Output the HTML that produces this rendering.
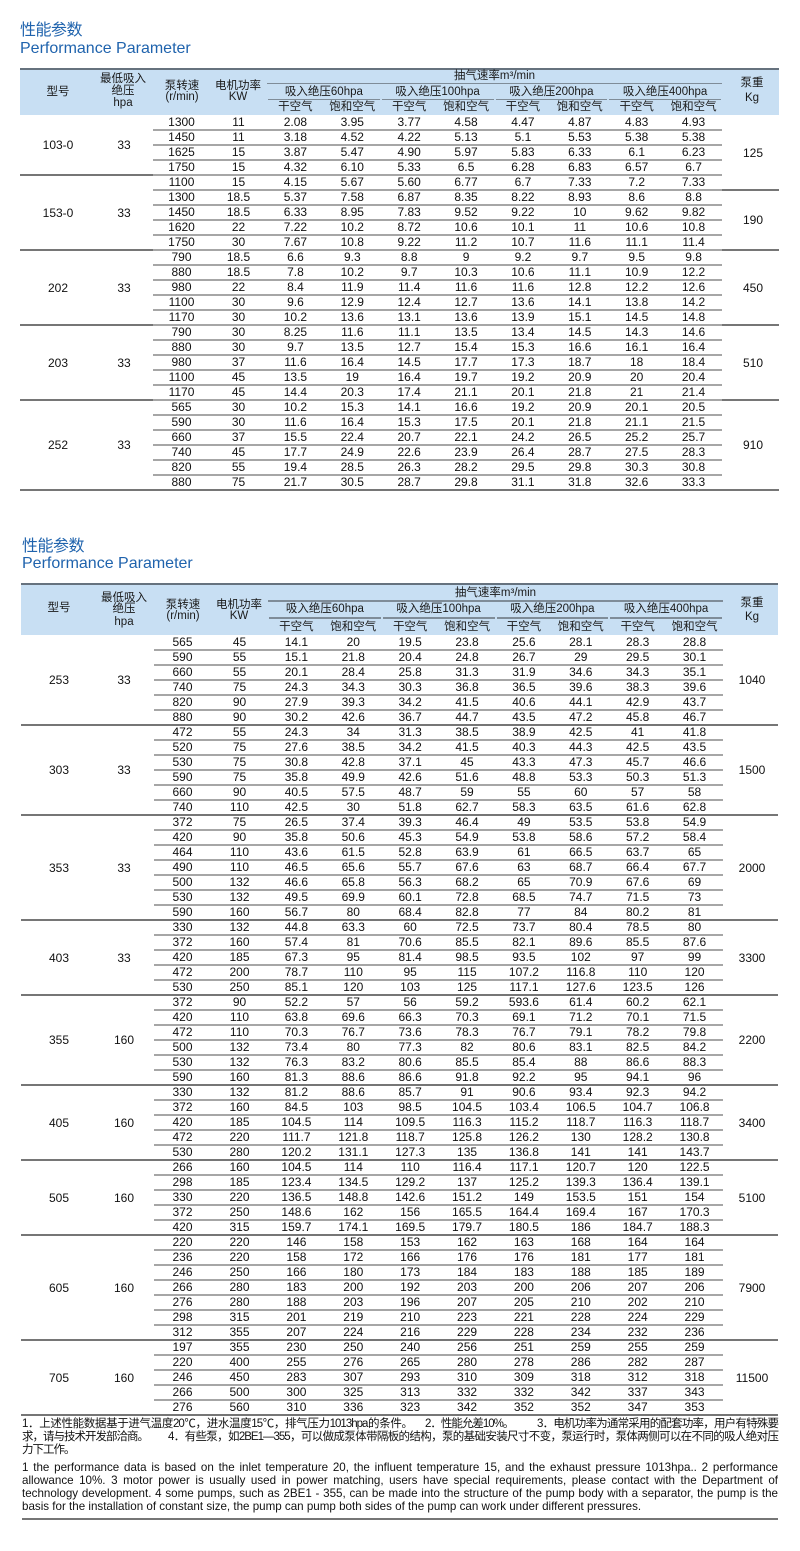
<!DOCTYPE html>
<html><head><meta charset="utf-8">
<style>
*{margin:0;padding:0;box-sizing:border-box}
html,body{width:800px;height:1551px;background:#fff;overflow:hidden}
body{position:relative;font-family:"Liberation Sans","Noto Sans CJK SC",sans-serif;color:#151515}
.tt{position:absolute;color:#1f63ad;font-size:16px;line-height:18px;white-space:nowrap}
.tt.cn{letter-spacing:-0.5px}
.tbl{position:absolute}
.hd{position:relative;background:#c8dff3}
.hd .top{position:absolute;left:0;right:0;top:0;height:2px;background:#66727e}
.c{position:absolute;transform:translate(-50%,-50%);white-space:nowrap;font-size:11.5px;line-height:12px;color:#1a1a1a}
.hl{position:absolute;height:1.5px;background:#7f8c98}
.bd{position:relative}
.r{display:flex;position:relative;margin-left:133px;width:569px;font-size:12px;height:15px;line-height:15px;color:#111}
.r i{font-style:normal;display:block;width:56.875px;text-align:center;white-space:nowrap}
.r i:nth-child(1),.r i:nth-child(2){width:57px}
.r::after{content:"";position:absolute;left:0;right:0;bottom:-1px;height:2px;background:#a6a6a6}
.lb{position:absolute;transform:translate(-50%,-50%);white-space:nowrap;font-size:12px;line-height:12px;color:#111}
.gl{position:absolute;height:2px;background:#767676}
.fn{position:absolute;white-space:nowrap;font-size:11.5px;line-height:13px;letter-spacing:-1px;color:#111}
.fj{text-align:justify;text-align-last:justify;white-space:normal}
.en{position:absolute;left:22px;width:756px;font-size:11.6px;line-height:13px;white-space:normal;color:#111}
.en.j{text-align:justify;text-align-last:justify}
</style></head><body>

<div class="tt cn" style="left:20px;top:22px">性能参数</div>
<div class="tt" style="left:20px;top:40px">Performance Parameter</div>

<!-- TABLE 1 -->
<div class="tbl t1" style="left:20px;top:68px;width:759px">
 <div class="hd" style="height:47px">
  <div class="top"></div>
  <div class="c" style="left:38px;top:23.7px">型号</div>
  <div class="c" style="left:103px;top:11px">最低吸入</div>
  <div class="c" style="left:103px;top:22.5px">绝压</div>
  <div class="c" style="left:103px;top:35px">hpa</div>
  <div class="c" style="left:162px;top:17.7px">泵转速</div>
  <div class="c" style="left:162px;top:29px">(r/min)</div>
  <div class="c" style="left:218px;top:17.7px">电机功率</div>
  <div class="c" style="left:218px;top:29px">KW</div>
  <div class="c" style="left:474.5px;top:7.5px">抽气速率m³/min</div>
  <div class="hl" style="left:247px;top:14.5px;width:455px"></div>
  <div class="c" style="left:303.9px;top:23.7px">吸入绝压60hpa</div>
  <div class="c" style="left:417.6px;top:23.7px">吸入绝压100hpa</div>
  <div class="c" style="left:531.4px;top:23.7px">吸入绝压200hpa</div>
  <div class="c" style="left:645.1px;top:23.7px">吸入绝压400hpa</div>
  <div class="hl" style="left:248px;top:30.5px;width:111.75px"></div>
  <div class="hl" style="left:361.75px;top:30.5px;width:111.75px"></div>
  <div class="hl" style="left:475.5px;top:30.5px;width:111.75px"></div>
  <div class="hl" style="left:589.25px;top:30.5px;width:112px"></div>
  <div class="c" style="left:275.4px;top:39px">干空气</div>
  <div class="c" style="left:332.3px;top:39px">饱和空气</div>
  <div class="c" style="left:389.2px;top:39px">干空气</div>
  <div class="c" style="left:446.1px;top:39px">饱和空气</div>
  <div class="c" style="left:502.9px;top:39px">干空气</div>
  <div class="c" style="left:559.8px;top:39px">饱和空气</div>
  <div class="c" style="left:616.7px;top:39px">干空气</div>
  <div class="c" style="left:673.6px;top:39px">饱和空气</div>
  <div class="c" style="left:732px;top:15.3px">泵重</div>
  <div class="c" style="left:732px;top:30px">Kg</div>
 </div>
 <div class="bd">
  <div class="r"><i>1300</i><i>11</i><i>2.08</i><i>3.95</i><i>3.77</i><i>4.58</i><i>4.47</i><i>4.87</i><i>4.83</i><i>4.93</i></div>
  <div class="r"><i>1450</i><i>11</i><i>3.18</i><i>4.52</i><i>4.22</i><i>5.13</i><i>5.1</i><i>5.53</i><i>5.38</i><i>5.38</i></div>
  <div class="r"><i>1625</i><i>15</i><i>3.87</i><i>5.47</i><i>4.90</i><i>5.97</i><i>5.83</i><i>6.33</i><i>6.1</i><i>6.23</i></div>
  <div class="r"><i>1750</i><i>15</i><i>4.32</i><i>6.10</i><i>5.33</i><i>6.5</i><i>6.28</i><i>6.83</i><i>6.57</i><i>6.7</i></div>
  <div class="r"><i>1100</i><i>15</i><i>4.15</i><i>5.67</i><i>5.60</i><i>6.77</i><i>6.7</i><i>7.33</i><i>7.2</i><i>7.33</i></div>
  <div class="r"><i>1300</i><i>18.5</i><i>5.37</i><i>7.58</i><i>6.87</i><i>8.35</i><i>8.22</i><i>8.93</i><i>8.6</i><i>8.8</i></div>
  <div class="r"><i>1450</i><i>18.5</i><i>6.33</i><i>8.95</i><i>7.83</i><i>9.52</i><i>9.22</i><i>10</i><i>9.62</i><i>9.82</i></div>
  <div class="r"><i>1620</i><i>22</i><i>7.22</i><i>10.2</i><i>8.72</i><i>10.6</i><i>10.1</i><i>11</i><i>10.6</i><i>10.8</i></div>
  <div class="r"><i>1750</i><i>30</i><i>7.67</i><i>10.8</i><i>9.22</i><i>11.2</i><i>10.7</i><i>11.6</i><i>11.1</i><i>11.4</i></div>
  <div class="r"><i>790</i><i>18.5</i><i>6.6</i><i>9.3</i><i>8.8</i><i>9</i><i>9.2</i><i>9.7</i><i>9.5</i><i>9.8</i></div>
  <div class="r"><i>880</i><i>18.5</i><i>7.8</i><i>10.2</i><i>9.7</i><i>10.3</i><i>10.6</i><i>11.1</i><i>10.9</i><i>12.2</i></div>
  <div class="r"><i>980</i><i>22</i><i>8.4</i><i>11.9</i><i>11.4</i><i>11.6</i><i>11.6</i><i>12.8</i><i>12.2</i><i>12.6</i></div>
  <div class="r"><i>1100</i><i>30</i><i>9.6</i><i>12.9</i><i>12.4</i><i>12.7</i><i>13.6</i><i>14.1</i><i>13.8</i><i>14.2</i></div>
  <div class="r"><i>1170</i><i>30</i><i>10.2</i><i>13.6</i><i>13.1</i><i>13.6</i><i>13.9</i><i>15.1</i><i>14.5</i><i>14.8</i></div>
  <div class="r"><i>790</i><i>30</i><i>8.25</i><i>11.6</i><i>11.1</i><i>13.5</i><i>13.4</i><i>14.5</i><i>14.3</i><i>14.6</i></div>
  <div class="r"><i>880</i><i>30</i><i>9.7</i><i>13.5</i><i>12.7</i><i>15.4</i><i>15.3</i><i>16.6</i><i>16.1</i><i>16.4</i></div>
  <div class="r"><i>980</i><i>37</i><i>11.6</i><i>16.4</i><i>14.5</i><i>17.7</i><i>17.3</i><i>18.7</i><i>18</i><i>18.4</i></div>
  <div class="r"><i>1100</i><i>45</i><i>13.5</i><i>19</i><i>16.4</i><i>19.7</i><i>19.2</i><i>20.9</i><i>20</i><i>20.4</i></div>
  <div class="r"><i>1170</i><i>45</i><i>14.4</i><i>20.3</i><i>17.4</i><i>21.1</i><i>20.1</i><i>21.8</i><i>21</i><i>21.4</i></div>
  <div class="r"><i>565</i><i>30</i><i>10.2</i><i>15.3</i><i>14.1</i><i>16.6</i><i>19.2</i><i>20.9</i><i>20.1</i><i>20.5</i></div>
  <div class="r"><i>590</i><i>30</i><i>11.6</i><i>16.4</i><i>15.3</i><i>17.5</i><i>20.1</i><i>21.8</i><i>21.1</i><i>21.5</i></div>
  <div class="r"><i>660</i><i>37</i><i>15.5</i><i>22.4</i><i>20.7</i><i>22.1</i><i>24.2</i><i>26.5</i><i>25.2</i><i>25.7</i></div>
  <div class="r"><i>740</i><i>45</i><i>17.7</i><i>24.9</i><i>22.6</i><i>23.9</i><i>26.4</i><i>28.7</i><i>27.5</i><i>28.3</i></div>
  <div class="r"><i>820</i><i>55</i><i>19.4</i><i>28.5</i><i>26.3</i><i>28.2</i><i>29.5</i><i>29.8</i><i>30.3</i><i>30.8</i></div>
  <div class="r"><i>880</i><i>75</i><i>21.7</i><i>30.5</i><i>28.7</i><i>29.8</i><i>31.1</i><i>31.8</i><i>32.6</i><i>33.3</i></div>

  <div class="lb" style="left:38px;top:30px">103-0</div>
  <div class="lb" style="left:38px;top:97.5px">153-0</div>
  <div class="lb" style="left:38px;top:172.5px">202</div>
  <div class="lb" style="left:38px;top:247.5px">203</div>
  <div class="lb" style="left:38px;top:330px">252</div>
  <div class="lb" style="left:104px;top:30px">33</div>
  <div class="lb" style="left:104px;top:97.5px">33</div>
  <div class="lb" style="left:104px;top:172.5px">33</div>
  <div class="lb" style="left:104px;top:247.5px">33</div>
  <div class="lb" style="left:104px;top:330px">33</div>
  <div class="lb" style="left:733px;top:37.5px">125</div>
  <div class="lb" style="left:733px;top:105px">190</div>
  <div class="lb" style="left:733px;top:172.5px">450</div>
  <div class="lb" style="left:733px;top:247.5px">510</div>
  <div class="lb" style="left:733px;top:330px">910</div>

  <div class="gl" style="left:0;width:133px;top:59px"></div>
  <div class="gl" style="left:0;width:133px;top:134px"></div>
  <div class="gl" style="left:0;width:133px;top:209px"></div>
  <div class="gl" style="left:0;width:133px;top:284px"></div>
  <div class="gl" style="left:702px;width:57px;top:74px"></div>
  <div class="gl" style="left:702px;width:57px;top:134px"></div>
  <div class="gl" style="left:702px;width:57px;top:209px"></div>
  <div class="gl" style="left:702px;width:57px;top:284px"></div>
  <div class="gl" style="left:0;width:759px;top:374px"></div>
 </div>
</div>

<div class="tt cn" style="left:22px;top:538px">性能参数</div>
<div class="tt" style="left:22px;top:555px">Performance Parameter</div>

<!-- TABLE 2 -->
<div class="tbl t2" style="left:21px;top:583px;width:757px">
 <div class="hd" style="height:52px">
  <div class="top"></div>
  <div class="c" style="left:38px;top:25.3px">型号</div>
  <div class="c" style="left:103px;top:14.7px">最低吸入</div>
  <div class="c" style="left:103px;top:26.3px">绝压</div>
  <div class="c" style="left:103px;top:38.7px">hpa</div>
  <div class="c" style="left:162px;top:22px">泵转速</div>
  <div class="c" style="left:162px;top:33px">(r/min)</div>
  <div class="c" style="left:218px;top:22px">电机功率</div>
  <div class="c" style="left:218px;top:33px">KW</div>
  <div class="c" style="left:474.5px;top:9.7px">抽气速率m³/min</div>
  <div class="hl" style="left:247px;top:17px;width:455px"></div>
  <div class="c" style="left:303.9px;top:26.3px">吸入绝压60hpa</div>
  <div class="c" style="left:417.6px;top:26.3px">吸入绝压100hpa</div>
  <div class="c" style="left:531.4px;top:26.3px">吸入绝压200hpa</div>
  <div class="c" style="left:645.1px;top:26.3px">吸入绝压400hpa</div>
  <div class="hl" style="left:248px;top:34.3px;width:111.75px"></div>
  <div class="hl" style="left:361.75px;top:34.3px;width:111.75px"></div>
  <div class="hl" style="left:475.5px;top:34.3px;width:111.75px"></div>
  <div class="hl" style="left:589.25px;top:34.3px;width:112px"></div>
  <div class="c" style="left:275.4px;top:44.3px">干空气</div>
  <div class="c" style="left:332.3px;top:44.3px">饱和空气</div>
  <div class="c" style="left:389.2px;top:44.3px">干空气</div>
  <div class="c" style="left:446.1px;top:44.3px">饱和空气</div>
  <div class="c" style="left:502.9px;top:44.3px">干空气</div>
  <div class="c" style="left:559.8px;top:44.3px">饱和空气</div>
  <div class="c" style="left:616.7px;top:44.3px">干空气</div>
  <div class="c" style="left:673.6px;top:44.3px">饱和空气</div>
  <div class="c" style="left:731px;top:20.3px">泵重</div>
  <div class="c" style="left:731px;top:33.7px">Kg</div>
 </div>
 <div class="bd">
  <div class="r"><i>565</i><i>45</i><i>14.1</i><i>20</i><i>19.5</i><i>23.8</i><i>25.6</i><i>28.1</i><i>28.3</i><i>28.8</i></div>
  <div class="r"><i>590</i><i>55</i><i>15.1</i><i>21.8</i><i>20.4</i><i>24.8</i><i>26.7</i><i>29</i><i>29.5</i><i>30.1</i></div>
  <div class="r"><i>660</i><i>55</i><i>20.1</i><i>28.4</i><i>25.8</i><i>31.3</i><i>31.9</i><i>34.6</i><i>34.3</i><i>35.1</i></div>
  <div class="r"><i>740</i><i>75</i><i>24.3</i><i>34.3</i><i>30.3</i><i>36.8</i><i>36.5</i><i>39.6</i><i>38.3</i><i>39.6</i></div>
  <div class="r"><i>820</i><i>90</i><i>27.9</i><i>39.3</i><i>34.2</i><i>41.5</i><i>40.6</i><i>44.1</i><i>42.9</i><i>43.7</i></div>
  <div class="r"><i>880</i><i>90</i><i>30.2</i><i>42.6</i><i>36.7</i><i>44.7</i><i>43.5</i><i>47.2</i><i>45.8</i><i>46.7</i></div>
  <div class="r"><i>472</i><i>55</i><i>24.3</i><i>34</i><i>31.3</i><i>38.5</i><i>38.9</i><i>42.5</i><i>41</i><i>41.8</i></div>
  <div class="r"><i>520</i><i>75</i><i>27.6</i><i>38.5</i><i>34.2</i><i>41.5</i><i>40.3</i><i>44.3</i><i>42.5</i><i>43.5</i></div>
  <div class="r"><i>530</i><i>75</i><i>30.8</i><i>42.8</i><i>37.1</i><i>45</i><i>43.3</i><i>47.3</i><i>45.7</i><i>46.6</i></div>
  <div class="r"><i>590</i><i>75</i><i>35.8</i><i>49.9</i><i>42.6</i><i>51.6</i><i>48.8</i><i>53.3</i><i>50.3</i><i>51.3</i></div>
  <div class="r"><i>660</i><i>90</i><i>40.5</i><i>57.5</i><i>48.7</i><i>59</i><i>55</i><i>60</i><i>57</i><i>58</i></div>
  <div class="r"><i>740</i><i>110</i><i>42.5</i><i>30</i><i>51.8</i><i>62.7</i><i>58.3</i><i>63.5</i><i>61.6</i><i>62.8</i></div>
  <div class="r"><i>372</i><i>75</i><i>26.5</i><i>37.4</i><i>39.3</i><i>46.4</i><i>49</i><i>53.5</i><i>53.8</i><i>54.9</i></div>
  <div class="r"><i>420</i><i>90</i><i>35.8</i><i>50.6</i><i>45.3</i><i>54.9</i><i>53.8</i><i>58.6</i><i>57.2</i><i>58.4</i></div>
  <div class="r"><i>464</i><i>110</i><i>43.6</i><i>61.5</i><i>52.8</i><i>63.9</i><i>61</i><i>66.5</i><i>63.7</i><i>65</i></div>
  <div class="r"><i>490</i><i>110</i><i>46.5</i><i>65.6</i><i>55.7</i><i>67.6</i><i>63</i><i>68.7</i><i>66.4</i><i>67.7</i></div>
  <div class="r"><i>500</i><i>132</i><i>46.6</i><i>65.8</i><i>56.3</i><i>68.2</i><i>65</i><i>70.9</i><i>67.6</i><i>69</i></div>
  <div class="r"><i>530</i><i>132</i><i>49.5</i><i>69.9</i><i>60.1</i><i>72.8</i><i>68.5</i><i>74.7</i><i>71.5</i><i>73</i></div>
  <div class="r"><i>590</i><i>160</i><i>56.7</i><i>80</i><i>68.4</i><i>82.8</i><i>77</i><i>84</i><i>80.2</i><i>81</i></div>
  <div class="r"><i>330</i><i>132</i><i>44.8</i><i>63.3</i><i>60</i><i>72.5</i><i>73.7</i><i>80.4</i><i>78.5</i><i>80</i></div>
  <div class="r"><i>372</i><i>160</i><i>57.4</i><i>81</i><i>70.6</i><i>85.5</i><i>82.1</i><i>89.6</i><i>85.5</i><i>87.6</i></div>
  <div class="r"><i>420</i><i>185</i><i>67.3</i><i>95</i><i>81.4</i><i>98.5</i><i>93.5</i><i>102</i><i>97</i><i>99</i></div>
  <div class="r"><i>472</i><i>200</i><i>78.7</i><i>110</i><i>95</i><i>115</i><i>107.2</i><i>116.8</i><i>110</i><i>120</i></div>
  <div class="r"><i>530</i><i>250</i><i>85.1</i><i>120</i><i>103</i><i>125</i><i>117.1</i><i>127.6</i><i>123.5</i><i>126</i></div>
  <div class="r"><i>372</i><i>90</i><i>52.2</i><i>57</i><i>56</i><i>59.2</i><i>593.6</i><i>61.4</i><i>60.2</i><i>62.1</i></div>
  <div class="r"><i>420</i><i>110</i><i>63.8</i><i>69.6</i><i>66.3</i><i>70.3</i><i>69.1</i><i>71.2</i><i>70.1</i><i>71.5</i></div>
  <div class="r"><i>472</i><i>110</i><i>70.3</i><i>76.7</i><i>73.6</i><i>78.3</i><i>76.7</i><i>79.1</i><i>78.2</i><i>79.8</i></div>
  <div class="r"><i>500</i><i>132</i><i>73.4</i><i>80</i><i>77.3</i><i>82</i><i>80.6</i><i>83.1</i><i>82.5</i><i>84.2</i></div>
  <div class="r"><i>530</i><i>132</i><i>76.3</i><i>83.2</i><i>80.6</i><i>85.5</i><i>85.4</i><i>88</i><i>86.6</i><i>88.3</i></div>
  <div class="r"><i>590</i><i>160</i><i>81.3</i><i>88.6</i><i>86.6</i><i>91.8</i><i>92.2</i><i>95</i><i>94.1</i><i>96</i></div>
  <div class="r"><i>330</i><i>132</i><i>81.2</i><i>88.6</i><i>85.7</i><i>91</i><i>90.6</i><i>93.4</i><i>92.3</i><i>94.2</i></div>
  <div class="r"><i>372</i><i>160</i><i>84.5</i><i>103</i><i>98.5</i><i>104.5</i><i>103.4</i><i>106.5</i><i>104.7</i><i>106.8</i></div>
  <div class="r"><i>420</i><i>185</i><i>104.5</i><i>114</i><i>109.5</i><i>116.3</i><i>115.2</i><i>118.7</i><i>116.3</i><i>118.7</i></div>
  <div class="r"><i>472</i><i>220</i><i>111.7</i><i>121.8</i><i>118.7</i><i>125.8</i><i>126.2</i><i>130</i><i>128.2</i><i>130.8</i></div>
  <div class="r"><i>530</i><i>280</i><i>120.2</i><i>131.1</i><i>127.3</i><i>135</i><i>136.8</i><i>141</i><i>141</i><i>143.7</i></div>
  <div class="r"><i>266</i><i>160</i><i>104.5</i><i>114</i><i>110</i><i>116.4</i><i>117.1</i><i>120.7</i><i>120</i><i>122.5</i></div>
  <div class="r"><i>298</i><i>185</i><i>123.4</i><i>134.5</i><i>129.2</i><i>137</i><i>125.2</i><i>139.3</i><i>136.4</i><i>139.1</i></div>
  <div class="r"><i>330</i><i>220</i><i>136.5</i><i>148.8</i><i>142.6</i><i>151.2</i><i>149</i><i>153.5</i><i>151</i><i>154</i></div>
  <div class="r"><i>372</i><i>250</i><i>148.6</i><i>162</i><i>156</i><i>165.5</i><i>164.4</i><i>169.4</i><i>167</i><i>170.3</i></div>
  <div class="r"><i>420</i><i>315</i><i>159.7</i><i>174.1</i><i>169.5</i><i>179.7</i><i>180.5</i><i>186</i><i>184.7</i><i>188.3</i></div>
  <div class="r"><i>220</i><i>220</i><i>146</i><i>158</i><i>153</i><i>162</i><i>163</i><i>168</i><i>164</i><i>164</i></div>
  <div class="r"><i>236</i><i>220</i><i>158</i><i>172</i><i>166</i><i>176</i><i>176</i><i>181</i><i>177</i><i>181</i></div>
  <div class="r"><i>246</i><i>250</i><i>166</i><i>180</i><i>173</i><i>184</i><i>183</i><i>188</i><i>185</i><i>189</i></div>
  <div class="r"><i>266</i><i>280</i><i>183</i><i>200</i><i>192</i><i>203</i><i>200</i><i>206</i><i>207</i><i>206</i></div>
  <div class="r"><i>276</i><i>280</i><i>188</i><i>203</i><i>196</i><i>207</i><i>205</i><i>210</i><i>202</i><i>210</i></div>
  <div class="r"><i>298</i><i>315</i><i>201</i><i>219</i><i>210</i><i>223</i><i>221</i><i>228</i><i>224</i><i>229</i></div>
  <div class="r"><i>312</i><i>355</i><i>207</i><i>224</i><i>216</i><i>229</i><i>228</i><i>234</i><i>232</i><i>236</i></div>
  <div class="r"><i>197</i><i>355</i><i>230</i><i>250</i><i>240</i><i>256</i><i>251</i><i>259</i><i>255</i><i>259</i></div>
  <div class="r"><i>220</i><i>400</i><i>255</i><i>276</i><i>265</i><i>280</i><i>278</i><i>286</i><i>282</i><i>287</i></div>
  <div class="r"><i>246</i><i>450</i><i>283</i><i>307</i><i>293</i><i>310</i><i>309</i><i>318</i><i>312</i><i>318</i></div>
  <div class="r"><i>266</i><i>500</i><i>300</i><i>325</i><i>313</i><i>332</i><i>332</i><i>342</i><i>337</i><i>343</i></div>
  <div class="r"><i>276</i><i>560</i><i>310</i><i>336</i><i>323</i><i>342</i><i>352</i><i>352</i><i>347</i><i>353</i></div>

  <div class="lb" style="left:38px;top:45px">253</div>
  <div class="lb" style="left:38px;top:135px">303</div>
  <div class="lb" style="left:38px;top:232.5px">353</div>
  <div class="lb" style="left:38px;top:322.5px">403</div>
  <div class="lb" style="left:38px;top:405px">355</div>
  <div class="lb" style="left:38px;top:487.5px">405</div>
  <div class="lb" style="left:38px;top:562.5px">505</div>
  <div class="lb" style="left:38px;top:652.5px">605</div>
  <div class="lb" style="left:38px;top:742.5px">705</div>
  <div class="lb" style="left:103px;top:45px">33</div>
  <div class="lb" style="left:103px;top:135px">33</div>
  <div class="lb" style="left:103px;top:232.5px">33</div>
  <div class="lb" style="left:103px;top:322.5px">33</div>
  <div class="lb" style="left:103px;top:405px">160</div>
  <div class="lb" style="left:103px;top:487.5px">160</div>
  <div class="lb" style="left:103px;top:562.5px">160</div>
  <div class="lb" style="left:103px;top:652.5px">160</div>
  <div class="lb" style="left:103px;top:742.5px">160</div>
  <div class="lb" style="left:731px;top:45px">1040</div>
  <div class="lb" style="left:731px;top:135px">1500</div>
  <div class="lb" style="left:731px;top:232.5px">2000</div>
  <div class="lb" style="left:731px;top:322.5px">3300</div>
  <div class="lb" style="left:731px;top:405px">2200</div>
  <div class="lb" style="left:731px;top:487.5px">3400</div>
  <div class="lb" style="left:731px;top:562.5px">5100</div>
  <div class="lb" style="left:731px;top:652.5px">7900</div>
  <div class="lb" style="left:731px;top:742.5px">11500</div>

  <div class="gl" style="left:0;width:757px;top:89px"></div>
  <div class="gl" style="left:0;width:757px;top:179px"></div>
  <div class="gl" style="left:0;width:757px;top:284px"></div>
  <div class="gl" style="left:0;width:757px;top:359px"></div>
  <div class="gl" style="left:0;width:757px;top:449px"></div>
  <div class="gl" style="left:0;width:757px;top:524px"></div>
  <div class="gl" style="left:0;width:757px;top:599px"></div>
  <div class="gl" style="left:0;width:757px;top:704px"></div>
  <div class="gl" style="left:0;width:757px;top:779px"></div>
 </div>
</div>

<!-- FOOTNOTES -->
<div class="fn fj" style="left:22px;top:1417.5px;width:390px">1．上述性能数据基于进气温度20℃，进水温度15℃，排气压力1013hpa的条件。</div>
<div class="fn" style="left:425px;top:1417.5px">2．性能允差10%。</div>
<div class="fn fj" style="left:537px;top:1417.5px;width:241px">3．电机功率为通常采用的配套功率，用户有特殊要</div>
<div class="fn" style="left:22px;top:1430.5px">求，请与技术开发部洽商。</div>
<div class="fn fj" style="left:168px;top:1430.5px;width:610px">4．有些泵，如2BE1—355，可以做成泵体带隔板的结构，泵的基础安装尺寸不变，泵运行时，泵体两侧可以在不同的吸人绝对压</div>
<div class="fn" style="left:22px;top:1443.5px">力下工作。</div>

<div class="en j" style="top:1461px">1 the performance data is based on the inlet temperature 20, the influent temperature 15, and the exhaust pressure 1013hpa.. 2 performance</div>
<div class="en j" style="top:1474px">allowance 10%. 3 motor power is usually used in power matching, users have special requirements, please contact with the Department of</div>
<div class="en j" style="top:1487px">technology development. 4 some pumps, such as 2BE1 - 355, can be made into the structure of the pump body with a separator, the pump is the</div>
<div class="en" style="top:1500px">basis for the installation of constant size, the pump can pump both sides of the pump can work under different pressures.</div>

<div style="position:absolute;left:22px;top:1518px;width:756px;height:2px;background:#767676"></div>

</body></html>
